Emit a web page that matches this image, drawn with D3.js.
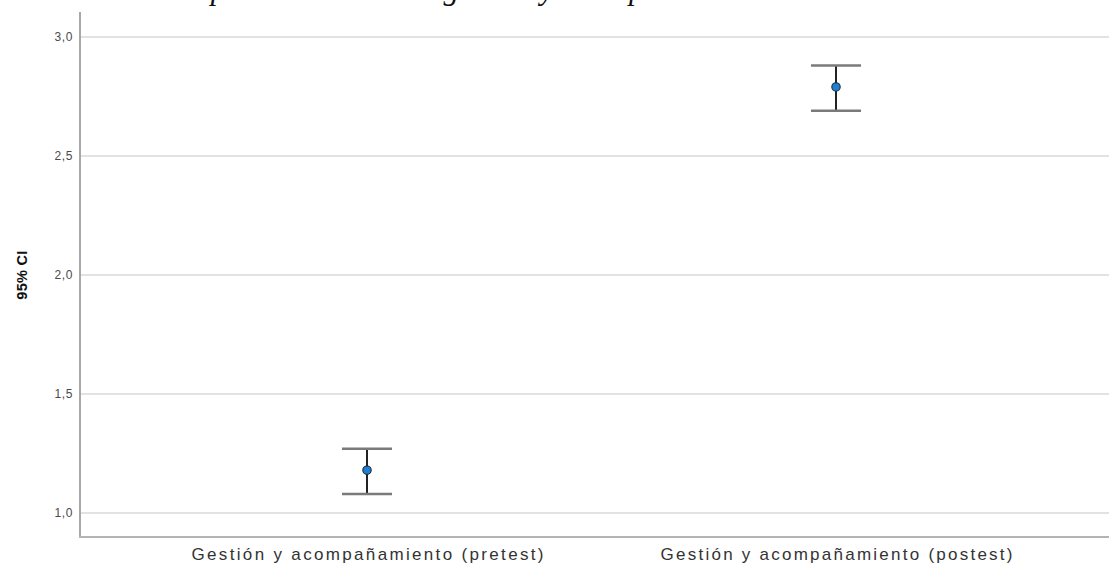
<!DOCTYPE html>
<html>
<head>
<meta charset="utf-8">
<script src="https://cdn.jsdelivr.net/npm/d3@7"></script>
<style>
  html, body { margin: 0; padding: 0; background: #fff; }
  svg { display: block; }
</style>
</head>
<body>
<svg id="chart" width="1109" height="567"></svg>
<script>
// Mean and 95% confidence interval per measurement
const categories = ["Gestión y acompañamiento (pretest)", "Gestión y acompañamiento (postest)"];
const means = [1.18, 2.79];
const lowerCI = [1.08, 2.69];
const upperCI = [1.27, 2.88];
const yTicks = [1.0, 1.5, 2.0, 2.5, 3.0];
const yTitle = "95% CI";
const caption = "Media obtenida para la dimensión gestión y acompañamiento";

const svg = d3.select("#chart");
const W = 1109, H = 567;
const axisX = 80, axisBottom = 537, axisTop = 12;

const y = d3.scaleLinear().domain([1.0, 3.0]).range([513, 37]);
const x = d3.scalePoint().domain(categories).range([132.5, 1070.5]).padding(0.5);

// Caption above the chart; the page edge trims all but its lower strip
svg.append("text")
  .attr("x", 8).attr("y", -1.5)
  .attr("textLength", 767)
  .attr("lengthAdjust", "spacingAndGlyphs")
  .attr("font-family", "Liberation Serif, serif")
  .attr("font-style", "italic")
  .attr("font-size", 31)
  .attr("fill", "#111")
  .text(caption);

// Horizontal gridlines
svg.append("g").selectAll("line").data(yTicks).join("line")
  .attr("x1", axisX + 1).attr("x2", W)
  .attr("y1", d => y(d)).attr("y2", d => y(d))
  .attr("stroke", "#e2e2e2").attr("stroke-width", 2.2);

// Y axis with tick labels
const yAxis = d3.axisLeft(y).tickValues(yTicks).tickSize(0).tickPadding(7)
  .tickFormat(d => d3.format(".1f")(d).replace(".", ","));
const gy = svg.append("g").attr("transform", `translate(${axisX},0)`).call(yAxis);
gy.select(".domain").remove();
gy.selectAll("text")
  .attr("font-family", "Liberation Sans, Arial, sans-serif")
  .attr("font-size", 12).attr("fill", "#4a4a4a")
  .attr("letter-spacing", 0.6);

// Axis lines
svg.append("line").attr("x1", axisX).attr("x2", axisX)
  .attr("y1", axisTop).attr("y2", axisBottom)
  .attr("stroke", "#a8a8a8").attr("stroke-width", 2);
svg.append("line").attr("x1", axisX - 1).attr("x2", W)
  .attr("y1", axisBottom).attr("y2", axisBottom)
  .attr("stroke", "#b4b4b4").attr("stroke-width", 2);

// X axis category labels
const xAxis = d3.axisBottom(x).tickSize(0).tickPadding(11);
const gx = svg.append("g").attr("transform", `translate(0,${axisBottom})`).call(xAxis);
gx.select(".domain").remove();
gx.selectAll("text")
  .attr("font-family", "Liberation Sans, Arial, sans-serif")
  .attr("font-size", 17).attr("fill", "#333")
  .attr("textLength", 352)
  .attr("lengthAdjust", "spacing");

// Y axis title
svg.append("text")
  .attr("transform", `translate(27,${(y(1.0) + y(3.0)) / 2}) rotate(-90)`)
  .attr("text-anchor", "middle")
  .attr("font-family", "Liberation Sans, Arial, sans-serif")
  .attr("font-weight", "bold")
  .attr("font-size", 14.5).attr("fill", "#111")
  .attr("letter-spacing", 0.3)
  .text(yTitle);

// Error bars
const rows = categories.map((c, i) => ({ c, m: means[i], lo: lowerCI[i], hi: upperCI[i] }));
const capHalf = 25;
const g = svg.append("g");
g.selectAll(".stem").data(rows).join("line")
  .attr("x1", d => x(d.c)).attr("x2", d => x(d.c))
  .attr("y1", d => y(d.hi)).attr("y2", d => y(d.lo))
  .attr("stroke", "#222").attr("stroke-width", 2);
g.selectAll(".capHi").data(rows).join("line")
  .attr("x1", d => x(d.c) - capHalf).attr("x2", d => x(d.c) + capHalf)
  .attr("y1", d => y(d.hi)).attr("y2", d => y(d.hi))
  .attr("stroke", "#7a7a7a").attr("stroke-width", 2.5);
g.selectAll(".capLo").data(rows).join("line")
  .attr("x1", d => x(d.c) - capHalf).attr("x2", d => x(d.c) + capHalf)
  .attr("y1", d => y(d.lo)).attr("y2", d => y(d.lo))
  .attr("stroke", "#7a7a7a").attr("stroke-width", 2.5);
g.selectAll("circle").data(rows).join("circle")
  .attr("cx", d => x(d.c)).attr("cy", d => y(d.m)).attr("r", 4.2)
  .attr("fill", "#1f7fd0").attr("stroke", "#1a2a3a").attr("stroke-width", 1.1);
</script>
</body>
</html>
